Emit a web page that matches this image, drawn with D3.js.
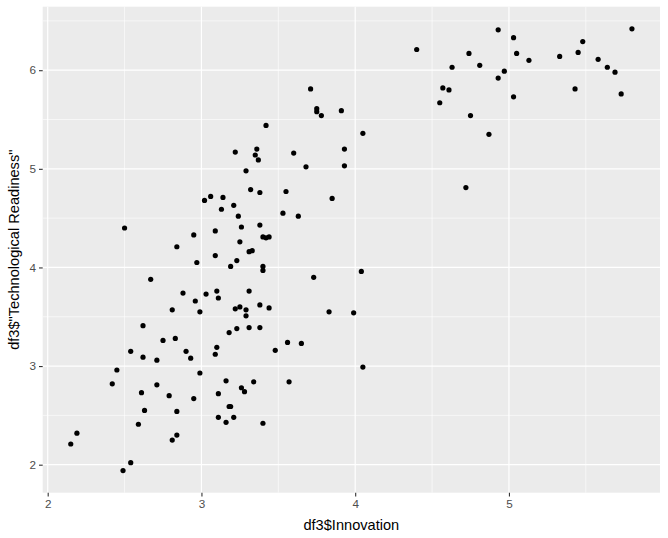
<!DOCTYPE html>
<html>
<head>
<meta charset="utf-8">
<script src="https://cdn.jsdelivr.net/npm/d3@7"></script>
<style>
  html, body { margin: 0; padding: 0; background: #ffffff; }
  svg { display: block; }
</style>
</head>
<body>
<div id="chart"></div>
<script>
// Innovation (x) values
const innovation = [
  4.40, 4.93, 5.03, 4.74, 5.05, 5.13, 4.63, 4.81, 4.97, 4.93,
  4.57, 4.61, 4.55, 5.03, 4.75, 4.87, 4.72, 5.33, 5.45, 5.48,
  5.80, 5.58, 5.64, 5.69, 5.43, 5.73,
  3.71, 3.75, 3.75, 3.78, 3.91, 3.42, 4.05, 3.22, 3.36, 3.35,
  3.37, 3.60, 3.93, 3.93, 3.68, 3.29, 3.32, 3.38, 3.55, 3.85,
  3.02, 3.06, 3.14, 3.13, 3.21, 3.24, 3.53, 3.63, 3.26, 3.38,
  2.95, 3.09, 3.40, 3.42, 3.44, 3.25, 3.31, 3.33, 3.09, 2.97,
  3.23, 3.19, 3.40, 3.40, 3.73, 4.04, 2.88, 3.03, 3.10, 3.31,
  3.11, 2.50, 2.84, 2.67,
  2.96, 2.81, 2.99, 3.22, 3.25, 3.29, 3.29, 3.38, 3.44, 3.83,
  3.99, 2.62, 2.75, 2.83, 2.54, 2.62, 2.71, 2.90, 2.93, 3.10,
  3.09, 3.18, 3.23, 3.31, 3.38, 3.56, 3.65, 3.48, 4.05, 2.45,
  2.42, 2.71, 2.61, 2.79, 2.63, 2.84, 2.99, 3.16, 3.11, 2.95,
  3.18, 3.19, 3.11, 3.16, 3.21, 2.59, 2.19, 2.15, 2.84, 2.81,
  2.54, 2.49, 3.34, 3.57, 3.26, 3.28, 3.40
];
// Technological Readiness (y) values
const techReadiness = [
  6.21, 6.41, 6.33, 6.17, 6.17, 6.10, 6.03, 6.05, 5.99, 5.92,
  5.82, 5.80, 5.67, 5.73, 5.54, 5.35, 4.81, 6.14, 6.18, 6.29,
  6.42, 6.11, 6.03, 5.98, 5.81, 5.76,
  5.81, 5.61, 5.58, 5.54, 5.59, 5.44, 5.36, 5.17, 5.20, 5.14,
  5.09, 5.16, 5.20, 5.03, 5.02, 4.98, 4.79, 4.76, 4.77, 4.70,
  4.68, 4.72, 4.71, 4.59, 4.63, 4.52, 4.55, 4.52, 4.41, 4.43,
  4.33, 4.37, 4.31, 4.30, 4.31, 4.26, 4.16, 4.17, 4.12, 4.05,
  4.07, 4.01, 4.01, 3.97, 3.90, 3.96, 3.74, 3.73, 3.76, 3.76,
  3.69, 4.40, 4.21, 3.88,
  3.66, 3.57, 3.55, 3.58, 3.60, 3.57, 3.51, 3.62, 3.59, 3.55,
  3.54, 3.41, 3.26, 3.28, 3.15, 3.09, 3.06, 3.15, 3.08, 3.19,
  3.12, 3.34, 3.38, 3.39, 3.39, 3.24, 3.23, 3.16, 2.99, 2.96,
  2.82, 2.81, 2.73, 2.70, 2.55, 2.54, 2.93, 2.85, 2.72, 2.67,
  2.59, 2.59, 2.48, 2.43, 2.48, 2.41, 2.32, 2.21, 2.30, 2.25,
  2.02, 1.94, 2.84, 2.84, 2.78, 2.74, 2.42
];
const xTicks = [2, 3, 4, 5];
const yTicks = [2, 3, 4, 5, 6];
const xMinor = [2.5, 3.5, 4.5, 5.5];
const yMinor = [2.5, 3.5, 4.5, 5.5, 6.5];
const xTitle = "df3$Innovation";
const yTitle = 'df3$"Technological Readiness"';

const W = 668, H = 538;
const margin = { left: 42.7, right: 8, top: 6.7, bottom: 45.3 };
const pw = W - margin.left - margin.right;
const ph = H - margin.top - margin.bottom;

const points = innovation.map((v, i) => ({ x: v, y: techReadiness[i] }));

function expand(ext) {
  const d = (ext[1] - ext[0]) * 0.05;
  return [ext[0] - d, ext[1] + d];
}
const x = d3.scaleLinear().domain(expand(d3.extent(innovation))).range([0, pw]);
const y = d3.scaleLinear().domain(expand(d3.extent(techReadiness))).range([ph, 0]);

const svg = d3.select("#chart").append("svg")
  .attr("width", W).attr("height", H);

const g = svg.append("g").attr("transform", `translate(${margin.left},${margin.top})`);

g.append("rect").attr("width", pw).attr("height", ph).attr("fill", "#EBEBEB");

// minor grid
g.selectAll(".xminor").data(xMinor).join("line")
  .attr("x1", d => x(d)).attr("x2", d => x(d))
  .attr("y1", 0).attr("y2", ph)
  .attr("stroke", "#ffffff").attr("stroke-width", 0.6);
g.selectAll(".yminor").data(yMinor.filter(v => y(v) >= 0)).join("line")
  .attr("y1", d => y(d)).attr("y2", d => y(d))
  .attr("x1", 0).attr("x2", pw)
  .attr("stroke", "#ffffff").attr("stroke-width", 0.6);
// major grid
g.selectAll(".xmajor").data(xTicks).join("line")
  .attr("x1", d => x(d)).attr("x2", d => x(d))
  .attr("y1", 0).attr("y2", ph)
  .attr("stroke", "#ffffff").attr("stroke-width", 1.2);
g.selectAll(".ymajor").data(yTicks).join("line")
  .attr("y1", d => y(d)).attr("y2", d => y(d))
  .attr("x1", 0).attr("x2", pw)
  .attr("stroke", "#ffffff").attr("stroke-width", 1.2);

// points
g.selectAll("circle.pt").data(points).join("circle")
  .attr("class", "pt")
  .attr("cx", d => x(d.x)).attr("cy", d => y(d.y))
  .attr("r", 2.6).attr("fill", "#000000");

// axes
const fontFam = "'Liberation Sans', Arial, sans-serif";
const xAxis = g.append("g").attr("transform", `translate(0,${ph})`)
  .call(d3.axisBottom(x).tickValues(xTicks).tickSize(3.7).tickPadding(3).tickFormat(d3.format("d")));
const yAxis = g.append("g")
  .call(d3.axisLeft(y).tickValues(yTicks).tickSize(3.7).tickPadding(3).tickFormat(d3.format("d")));
[xAxis, yAxis].forEach(a => {
  a.select(".domain").remove();
  a.selectAll(".tick line").attr("stroke", "#333333").attr("stroke-width", 1.1);
  a.selectAll(".tick text").attr("fill", "#4D4D4D")
    .style("font-family", fontFam).style("font-size", "11.7px");
});

svg.append("text")
  .attr("x", margin.left + pw / 2).attr("y", 530)
  .attr("text-anchor", "middle")
  .style("font-family", fontFam).style("font-size", "14.6px").attr("fill", "#000")
  .text(xTitle);

svg.append("text")
  .attr("transform", `translate(19,${margin.top + ph / 2}) rotate(-90)`)
  .attr("text-anchor", "middle")
  .style("font-family", fontFam).style("font-size", "14.6px").attr("fill", "#000")
  .text(yTitle);
</script>
</body>
</html>
